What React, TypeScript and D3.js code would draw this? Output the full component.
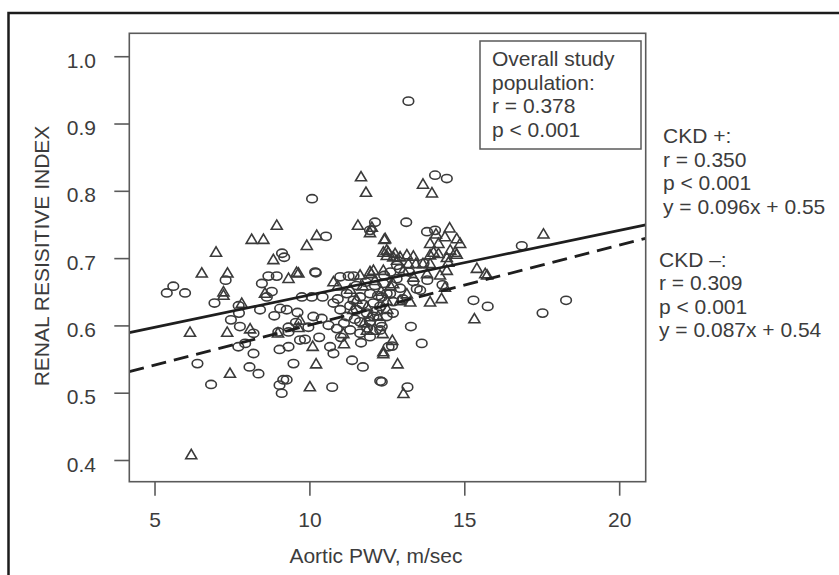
import React from "react";
import * as d3 from "d3";

const xTicks = [5, 10, 15, 20];
const yTicks = [0.4, 0.5, 0.6, 0.7, 0.8, 0.9, 1.0];

// circles: [Aortic PWV, RRI]
const circlePts: [number, number][] = [
  [5.38,0.649],[5.59,0.659],[5.97,0.649],[6.92,0.634],[7.28,0.668],[6.37,0.544],[6.81,0.513],
  [7.70,0.630],[7.71,0.619],[7.45,0.609],[7.74,0.599],[8.39,0.624],[8.18,0.589],[7.69,0.569],[7.91,0.574],[8.18,0.559],[8.05,0.539],[8.34,0.529],
  [9.02,0.512],[9.09,0.500],[9.14,0.520],[9.25,0.520],[10.72,0.509],[9.47,0.544],[9.02,0.565],[9.31,0.569],[9.68,0.579],[9.84,0.580],[10.65,0.569],[10.76,0.559],[11.36,0.549],[11.71,0.539],[12.27,0.518],
  [8.98,0.591],[9.31,0.598],[9.31,0.591],[9.04,0.626],[9.25,0.624],[8.61,0.643],[8.77,0.651],[8.45,0.663],[8.66,0.674],[8.93,0.674],[10.19,0.679],[9.74,0.643],[10.06,0.643],[10.41,0.643],[10.11,0.614],[10.38,0.611],[10.6,0.601],[10.87,0.596],[10.76,0.634],[10.98,0.673],[11.25,0.674],[11.41,0.674],
  [11.19,0.648],[11.41,0.638],[11.62,0.643],[11.94,0.648],[12.05,0.634],[12.27,0.629],[11.51,0.624],[11.84,0.619],[12.05,0.614],[11.62,0.606],[11.94,0.606],[12.27,0.604],[11.3,0.594],[11.62,0.589],[11.94,0.584],[12.27,0.594],[11.19,0.614],[10.98,0.624],[12.48,0.648],[12.48,0.614],[12.54,0.569],
  [15.28,0.638],[15.74,0.629],[17.51,0.619],[18.27,0.638],[13.56,0.653],[14.28,0.661],[13.79,0.668],[12.68,0.619],[13.26,0.599],[13.61,0.574],[12.65,0.570],[12.32,0.517],[13.15,0.509],[12.81,0.69],[13.67,0.693],[12.37,0.663],[12.59,0.648],[13.34,0.666],[12.91,0.656],[12.32,0.643],[12.69,0.636],[12.32,0.599],
  [13.18,0.934],[14.04,0.824],[14.42,0.819],[13.11,0.754],[13.78,0.74],[14.04,0.742],[16.84,0.719],
  [10.07,0.789],[10.52,0.733],[12.1,0.754],[11.94,0.742],[10.17,0.680],[9.10,0.708],[9.17,0.702],
  [11.5,0.66],[11.8,0.665],[12.1,0.66],[12.4,0.675],[12.6,0.68],[11.3,0.63],[11.7,0.632],[12.2,0.645],[12.8,0.67],[13.0,0.64],[11.1,0.604],[11.45,0.61],[11.85,0.597],[12.15,0.622],[11.65,0.575],[10.9,0.64],[12.9,0.685],[13.2,0.68],[13.45,0.655],[11.0,0.583],[9.55,0.605],[9.95,0.598],[10.3,0.583],[8.85,0.615],[9.6,0.62]
];

// triangles: [Aortic PWV, RRI]
const trianglePts: [number, number][] = [
  [6.97,0.710],[6.51,0.679],[7.34,0.679],[7.21,0.651],[7.21,0.646],[6.13,0.591],[7.33,0.591],[7.80,0.634],[8.07,0.596],[7.42,0.530],[6.17,0.409],[10.0,0.510],[10.2,0.544],[10.09,0.570],[12.37,0.559],[9.68,0.609],[9.63,0.598],[8.55,0.649],[9.31,0.671],[9.63,0.679],[10.76,0.666],[11.62,0.676],[11.94,0.681],[12.05,0.683],[12.37,0.683],[11.84,0.629],[11.94,0.614],[11.08,0.589],[11.84,0.594],[12.05,0.594],[11.1,0.574],
  [15.39,0.686],[15.66,0.678],[15.72,0.676],[15.31,0.611],[14.25,0.641],[13.88,0.636],[12.66,0.579],[12.37,0.562],[12.83,0.544],[13.02,0.500],
  [12.48,0.705],[12.75,0.708],[12.91,0.703],[13.13,0.706],[13.34,0.704],[13.88,0.706],[14.15,0.708],[14.42,0.702],[14.74,0.707],
  [14.47,0.695],[14.42,0.683],[14.2,0.676],[14.36,0.658],[13.78,0.678],[13.34,0.673],[13.02,0.683],[12.69,0.663],[13.13,0.648],[12.91,0.638],[12.48,0.638],[13.24,0.636],[12.35,0.589],
  [13.65,0.811],[13.94,0.798],[14.51,0.746],[14.74,0.73],[14.85,0.723],[14.07,0.737],[14.36,0.733],[13.88,0.723],[14.15,0.723],[14.53,0.713],[13.99,0.71],[14.69,0.71],[12.43,0.73],[12.48,0.713],[12.69,0.703],[12.81,0.698],[13.18,0.693],[13.42,0.693],[13.65,0.693],[13.88,0.693],[17.54,0.737],
  [11.65,0.822],[11.81,0.799],[8.93,0.750],[8.12,0.729],[8.5,0.729],[9.9,0.720],[10.22,0.735],[11.55,0.750],[12.0,0.747],[11.94,0.739],[12.4,0.729],[12.37,0.710],[12.53,0.710],[8.82,0.699],[9.57,0.680],[8.97,0.590],[11.98,0.678],
  [11.3,0.655],[11.7,0.66],[12.1,0.668],[12.3,0.652],[11.5,0.64],[12.2,0.615],[11.75,0.605],[12.6,0.66],[10.9,0.66],[12.5,0.625],[11.4,0.625]
];

// regression lines: [intercept, slope]
const solidFit = [0.55, 0.0096];
const dashedFit = [0.4825, 0.01188];

const legendLines = ["Overall study", "population:", "r = 0.378", "p < 0.001"];
const ckdPlusLines = ["CKD +:", "r = 0.350", "p < 0.001", "y = 0.096x + 0.55"];
const ckdMinusLines = ["CKD \u2013:", "r = 0.309", "p < 0.001", "y = 0.087x + 0.54"];

const W = 839, H = 575;
const L = 129.3, R = 645.7, T = 33.3, B = 481.7;
const FONT = "'Liberation Sans', Arial, Helvetica, sans-serif";
const TXT = "#3c3c3c";
const MK = "#3a3a3a";

export default function App() {
  const x = d3.scaleLinear().domain([4.17, 20.84]).range([L, R]);
  const y = d3.scaleLinear().domain([0.3685, 1.0348]).range([B, T]);
  const [x0, x1] = x.domain();
  const lineGen = d3.line<[number, number]>().x(d => x(d[0])).y(d => y(d[1]));
  const fitPts = (f: number[]): [number, number][] => [[x0, f[0] + f[1] * x0], [x1, f[0] + f[1] * x1]];
  const tri = (cx: number, cy: number) => `M${cx - 5.5},${cy + 4.3}L${cx + 5.5},${cy + 4.3}L${cx},${cy - 5}Z`;

  return (
    <svg width={W} height={H} style={{ position: "absolute", left: 0, top: 0, background: "#fff" }} fontFamily={FONT}>
      <rect x={0} y={0} width={W} height={H} fill="#fff" />
      <path d={`M8.5,${H + 5}V13H${W + 5}`} fill="none" stroke="#1c1c1c" strokeWidth={2.5} />
      <defs>
        <clipPath id="plotclip"><rect x={L} y={T} width={R - L} height={B - T} /></clipPath>
      </defs>
      {/* points */}
      <g fill="none" stroke={MK} strokeWidth={1.6}>
        {circlePts.map((p, i) => (
          <ellipse key={"c" + i} cx={x(p[0])} cy={y(p[1])} rx={5.3} ry={4.1} />
        ))}
        {trianglePts.map((p, i) => (
          <path key={"t" + i} d={tri(x(p[0]), y(p[1]))} strokeLinejoin="miter" />
        ))}
      </g>
      {/* fit lines */}
      <g clipPath="url(#plotclip)" fill="none" stroke="#1e1e1e">
        <path d={lineGen(fitPts(solidFit)) || ""} strokeWidth={2.7} />
        <path d={lineGen(fitPts(dashedFit)) || ""} strokeWidth={2.8} strokeDasharray="15,8" />
      </g>
      {/* box */}
      <rect x={L} y={T} width={R - L} height={B - T} fill="none" stroke="#5a5a5a" strokeWidth={1.6} />
      {/* y axis */}
      {yTicks.map(t => (
        <g key={"y" + t}>
          <line x1={L - 15} x2={L} y1={y(t)} y2={y(t)} stroke="#5a5a5a" strokeWidth={1.6} />
          <text x={96} y={y(t) + 11} textAnchor="end" fontSize={21} fill={TXT}>{t.toFixed(1)}</text>
        </g>
      ))}
      {/* x axis */}
      {xTicks.map(t => (
        <g key={"x" + t}>
          <line x1={x(t)} x2={x(t)} y1={B} y2={B + 14} stroke="#5a5a5a" strokeWidth={1.6} />
          <text x={x(t)} y={527} textAnchor="middle" fontSize={21} fill={TXT}>{t}</text>
        </g>
      ))}
      <text x={376} y={563} textAnchor="middle" fontSize={21} fill={TXT}>Aortic PWV, m/sec</text>
      <text transform="translate(49,256) rotate(-90)" textAnchor="middle" fontSize={21} fill={TXT}>RENAL RESISITIVE INDEX</text>
      {/* legend box */}
      <rect x={480} y={41} width={161} height={108} fill="#fff" stroke="#5a5a5a" strokeWidth={1.5} />
      {legendLines.map((s, i) => (
        <text key={"l" + i} x={492} y={65.7 + i * 23.8} fontSize={21} fill={TXT}>{s}</text>
      ))}
      {ckdPlusLines.map((s, i) => (
        <text key={"p" + i} x={663} y={142.7 + i * 23.8} fontSize={21} fill={TXT}>{s}</text>
      ))}
      {ckdMinusLines.map((s, i) => (
        <text key={"m" + i} x={659} y={266.7 + i * 23.4} fontSize={21} fill={TXT}>{s}</text>
      ))}
    </svg>
  );
}
